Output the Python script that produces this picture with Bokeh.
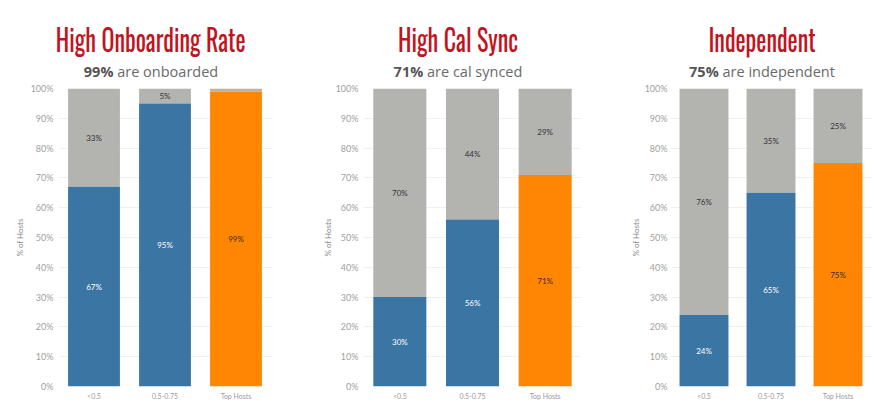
from bokeh.plotting import figure
from bokeh.models import ColumnDataSource, Div, FixedTicker, Range1d
from bokeh.layouts import row, column
from bokeh.embed import file_html
from bokeh.resources import INLINE
from bokeh.core.properties import value

# ---------------- data ----------------
categories = ["<0.5", "0.5-0.75", "Top Hosts"]
y_ticks = [0, 10, 20, 30, 40, 50, 60, 70, 80, 90, 100]
y_tick_labels = ["0%", "10%", "20%", "30%", "40%", "50%", "60%", "70%", "80%", "90%", "100%"]

titles = ["High Onboarding Rate", "High Cal Sync", "Independent"]
headline_pct = ["99%", "71%", "75%"]
headline_text = ["are onboarded", "are cal synced", "are independent"]

onboard_main = [67, 95, 99]
onboard_rest = [33, 5, 1]
onboard_main_labels = ["67%", "95%", "99%"]
onboard_rest_labels = ["33%", "5%", ""]

calsync_main = [30, 56, 71]
calsync_rest = [70, 44, 29]
calsync_main_labels = ["30%", "56%", "71%"]
calsync_rest_labels = ["70%", "44%", "29%"]

indep_main = [24, 65, 75]
indep_rest = [76, 35, 25]
indep_main_labels = ["24%", "65%", "75%"]
indep_rest_labels = ["76%", "35%", "25%"]

# ---------------- style ----------------
BLUE = "#3a75a3"
ORANGE = "#ff8602"
GRAY = "#b3b4b0"
main_colors = [BLUE, BLUE, ORANGE]
main_text_colors = ["#ffffff", "#ffffff", "#3a2a1a"]
TITLE_RED = "#c2141e"
FONT = "Lato"

panels = [
    dict(w=300, bl=58, br=29, tick_so=5, lab_so=3, off=1,
         main=onboard_main, rest=onboard_rest, ml=onboard_main_labels, rl=onboard_rest_labels),
    dict(w=300, bl=63, br=19, tick_so=5, lab_so=0, off=8,
         main=calsync_main, rest=calsync_rest, ml=calsync_main_labels, rl=calsync_rest_labels),
    dict(w=274, bl=70, br=3, tick_so=3, lab_so=1, off=25,
         main=indep_main, rest=indep_rest, ml=indep_main_labels, rl=indep_rest_labels),
]

cols = []
for i, pc in enumerate(panels):
    w = pc["w"]
    title_html = (
        f'<div style="width:{w}px;text-align:center;position:relative;left:{pc["off"]}px;'
        f'padding-top:19px;line-height:39px;height:39px;white-space:nowrap;'
        f'font-family:\'Oswald\',\'Liberation Sans Narrow\',\'DejaVu Sans Condensed\',sans-serif;'
        f'font-size:30px;font-weight:normal;color:{TITLE_RED};">'
        f'<span style="display:inline-block;line-height:28px;transform:scaleX(0.8);">'
        f'{titles[i]}</span></div>'
    )
    sub_html = (
        f'<div style="width:{w}px;text-align:center;position:relative;left:{pc["off"]}px;'
        f'padding-top:2px;line-height:20px;height:20px;white-space:nowrap;'
        f'font-family:\'Open Sans\',sans-serif;font-size:14.5px;color:#6a6a6a;">'
        f'<b style="color:#555555;">{headline_pct[i]}</b> {headline_text[i]}</div>'
    )
    d1 = Div(text=title_html, width=w, height=60, margin=0)
    d2 = Div(text=sub_html, width=w, height=20, margin=0)

    main = pc["main"]
    rest = pc["rest"]
    src = ColumnDataSource(dict(
        cat=categories,
        main=main,
        top=[m + r for m, r in zip(main, rest)],
        main_mid=[m / 2 for m in main],
        rest_mid=[m + r / 2 for m, r in zip(main, rest)],
        main_label=pc["ml"],
        rest_label=pc["rl"],
        color=main_colors,
        tcolor=main_text_colors,
    ))

    p = figure(x_range=categories, y_range=Range1d(0, 100), width=w, height=322,
               output_backend="svg", toolbar_location=None,
               min_border_left=pc["bl"], min_border_right=pc["br"],
               min_border_top=8, min_border_bottom=15)
    p.vbar(x="cat", bottom="main", top="top", width=0.73, source=src,
           fill_color=GRAY, line_color=None)
    p.vbar(x="cat", bottom=0, top="main", width=0.73, source=src,
           fill_color="color", line_color=None)
    p.text(x="cat", y="main_mid", text="main_label", source=src,
           text_color="tcolor", text_font=value(FONT), text_font_size="8px",
           text_align="center", text_baseline="middle")
    p.text(x="cat", y="rest_mid", text="rest_label", source=src,
           text_color="#333333", text_font=value(FONT), text_font_size="8px",
           text_align="center", text_baseline="middle")

    p.outline_line_color = None
    p.xgrid.visible = False
    p.ygrid.grid_line_color = "#f0f0f0"
    p.ygrid.ticker = FixedTicker(ticks=y_ticks)

    p.yaxis.ticker = FixedTicker(ticks=y_ticks)
    p.yaxis.major_label_overrides = {t: l for t, l in zip(y_ticks, y_tick_labels)}
    p.yaxis.axis_line_color = None
    p.yaxis.major_tick_line_color = None
    p.yaxis.minor_tick_line_color = None
    p.yaxis.major_tick_out = 0
    p.yaxis.major_tick_in = 0
    p.yaxis.minor_tick_out = 0
    p.yaxis.major_label_text_font = FONT
    p.yaxis.major_label_text_font_size = "9px"
    p.yaxis.major_label_text_color = "#a0a0a0"
    p.yaxis.major_label_standoff = pc["tick_so"]
    p.yaxis.axis_label = "% of Hosts"
    p.yaxis.axis_label_text_font = FONT
    p.yaxis.axis_label_text_font_size = "8px"
    p.yaxis.axis_label_text_font_style = "normal"
    p.yaxis.axis_label_text_color = "#888888"
    p.yaxis.axis_label_standoff = pc["lab_so"]

    p.xaxis.axis_line_color = None
    p.xaxis.major_tick_line_color = None
    p.xaxis.minor_tick_line_color = None
    p.xaxis.major_tick_out = 0
    p.xaxis.major_tick_in = 0
    p.xaxis.minor_tick_out = 0
    p.xaxis.major_label_text_font = FONT
    p.xaxis.major_label_text_font_size = "7px"
    p.xaxis.major_label_text_color = "#999999"
    p.xaxis.major_label_standoff = 5

    cols.append(column(d1, d2, p, spacing=0))

layout = row(*cols, spacing=0)
open("out.html", "w").write(file_html(layout, INLINE))
